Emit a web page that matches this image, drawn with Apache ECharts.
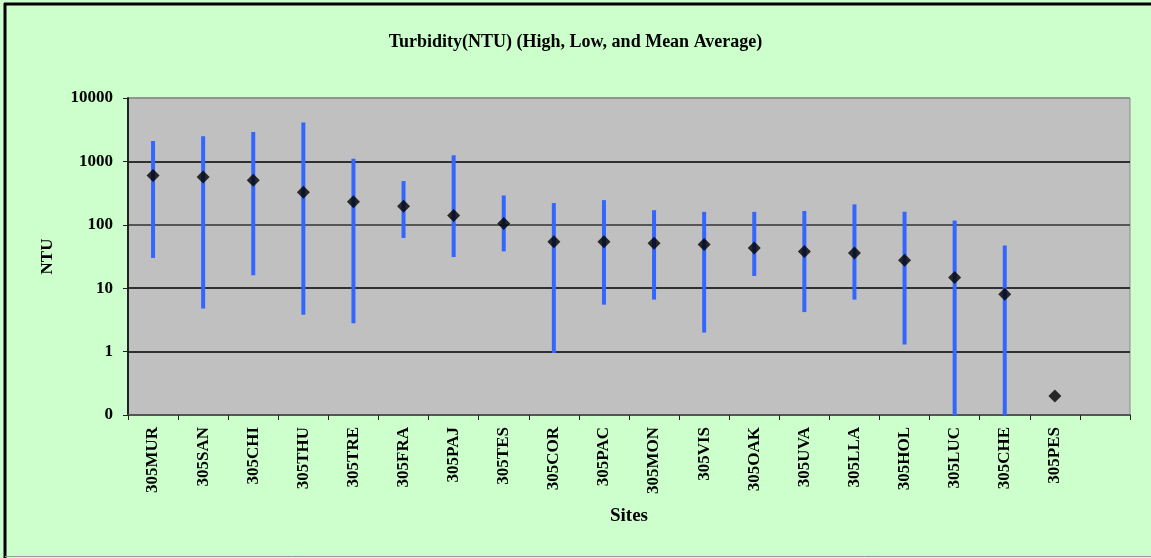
<!DOCTYPE html>
<html>
<head>
<meta charset="utf-8">
<script src="https://cdn.jsdelivr.net/npm/echarts@6/dist/echarts.min.js"></script>
<style>
html,body{margin:0;padding:0;background:#CCFFCC;}
#chart{width:1151px;height:558px;}
</style>
</head>
<body>
<div id="chart"></div>
<script>
const categories = ['305MUR','305SAN','305CHI','305THU','305TRE','305FRA','305PAJ','305TES','305COR','305PAC','305MON','305VIS','305OAK','305UVA','305LLA','305HOL','305LUC','305CHE','305PES',''];
const highs = [2100,2500,2900,4100,1100,490,1250,290,220,245,170,160,160,165,210,160,117,47,null,null];
const lows  = [30,4.8,16,3.8,2.8,62,31,38,0.95,5.5,6.6,2.0,15.6,4.2,6.6,1.3,0.1,0.1,null,null];
const means = [600,570,505,325,230,197,140,105,54,54,51,49,43,38,36,27.5,14.8,8,0.2,null];
const yTicks = [0.1,1,10,100,1000,10000];

const FONT = "'Liberation Serif','Times New Roman',serif";

const rangeData = [];
categories.forEach((c,i)=>{ if(highs[i]!=null && lows[i]!=null) rangeData.push([i, highs[i], lows[i]]); });
const meanData = categories.map((c,i)=> means[i]==null ? null : [i, means[i]]).filter(d=>d);

const chart = echarts.init(document.getElementById('chart'));
chart.setOption({
  backgroundColor:'#CCFFCC',
  animation:false,
  title:{
    text:'Turbidity(NTU) (High, Low, and Mean Average)',
    left:'center', top:28,
    textStyle:{fontFamily:FONT,fontWeight:'bold',fontSize:18,color:'#000'}
  },
  grid:{left:128,right:21,top:98,bottom:143,show:true,backgroundColor:'#C0C0C0',borderColor:'#8a8a8a',borderWidth:1},
  xAxis:{
    type:'category', data:categories, boundaryGap:true,
    name:'Sites', nameLocation:'middle', nameGap:92,
    nameTextStyle:{fontFamily:FONT,fontWeight:'bold',fontSize:19,color:'#000'},
    axisLine:{show:true,lineStyle:{color:'#555',width:2}},
    axisTick:{show:true,inside:false,length:5,interval:0,lineStyle:{color:'#222'}},
    axisLabel:{rotate:90,interval:0,margin:12,fontFamily:FONT,fontWeight:'bold',fontSize:17,color:'#000'},
    splitLine:{show:false}
  },
  yAxis:{
    type:'log', logBase:10, min:0.1, max:10000,
    name:'NTU', nameLocation:'middle', nameGap:72, nameRotate:90,
    nameTextStyle:{fontFamily:FONT,fontWeight:'bold',fontSize:17,color:'#000'},
    axisLine:{show:true,lineStyle:{color:'#222',width:2}},
    axisTick:{show:true,inside:false,length:5,lineStyle:{color:'#222'}},
    axisLabel:{margin:15,fontFamily:FONT,fontWeight:'bold',fontSize:17,color:'#000',
      formatter:v=> v<1 ? '0' : String(Math.round(v))},
    splitLine:{show:true,lineStyle:{color:['#555','#000','#000','#333','#000','#8a8a8a'],width:1.5}}
  },
  series:[
    {
      type:'custom',
      data:rangeData,
      encode:{x:0,y:[1,2]},
      clip:false,
      renderItem:function(params, api){
        const x = api.value(0);
        const p1 = api.coord([x, api.value(1)]);
        const p2 = api.coord([x, api.value(2)]);
        return {type:'rect', shape:{x:p1[0]-2, y:p1[1], width:4, height:p2[1]-p1[1]},
          style:{fill:'#3366FF'}};
      },
      z:2
    },
    {
      type:'scatter',
      data:meanData,
      symbol:'diamond',
      symbolSize:[13,13],
      itemStyle:{color:'#000'},
      z:3
    }
  ],
  graphic:[
    {type:'line',shape:{x1:5,y1:3,x2:5,y2:558},style:{stroke:'#000',lineWidth:3},silent:true},
    {type:'line',shape:{x1:4,y1:4,x2:1151,y2:4},style:{stroke:'#000',lineWidth:3},silent:true},
    {type:'line',shape:{x1:5,y1:556.5,x2:1151,y2:556.5},style:{stroke:'#9a9a9a',lineWidth:1},silent:true}
  ]
});
</script>
</body>
</html>
